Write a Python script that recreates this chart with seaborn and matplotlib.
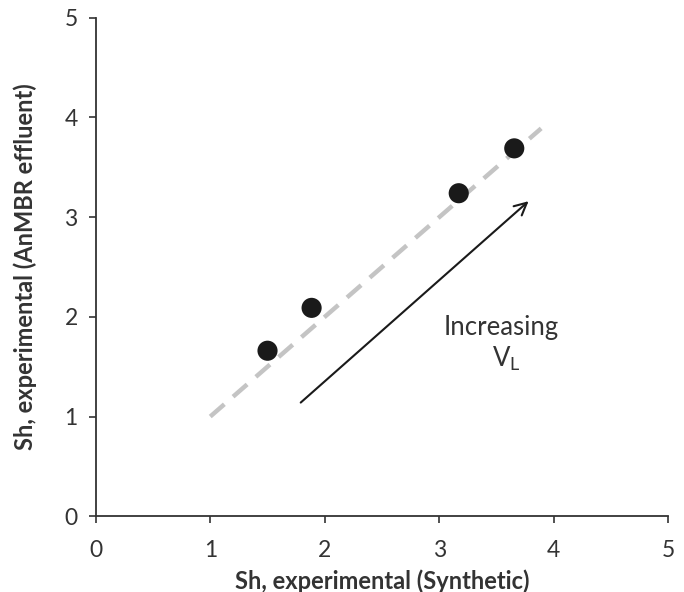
import matplotlib
matplotlib.use("Agg")
import matplotlib.pyplot as plt
import seaborn as sns
import pandas as pd

# Data
sh_synthetic = [1.50, 1.885, 3.17, 3.655]
sh_anmbr = [1.66, 2.09, 3.24, 3.69]
line_x = [1.0, 3.89]
line_y = [1.0, 3.89]
ticks = [0, 1, 2, 3, 4, 5]

sns.set_theme(style="ticks")
plt.rcParams['font.family'] = ['Lato', 'DejaVu Sans']

fig = plt.figure(figsize=(6.84, 5.92), dpi=100)
ax = fig.add_axes([0.140, 0.128, 0.837, 0.842])

df_line = pd.DataFrame({"x": line_x, "y": line_y})
sns.lineplot(data=df_line, x="x", y="y", ax=ax, color="#c4c4c4", linewidth=3.2,
             dashes=False)
ax.lines[-1].set_dashes([4.2, 2.6])
ax.lines[-1].set_dash_capstyle("butt")

df = pd.DataFrame({"x": sh_synthetic, "y": sh_anmbr})
sns.scatterplot(data=df, x="x", y="y", ax=ax, color="#1a1a1a", s=210,
                edgecolor="none", zorder=3)

ax.annotate("", xy=(3.78, 3.16), xytext=(1.79, 1.14),
            arrowprops=dict(arrowstyle="->", color="#1a1a1a", lw=1.5,
                            mutation_scale=22, shrinkA=0, shrinkB=0))
ax.text(3.54, 1.89, "Increasing", ha="center", va="center", fontsize=18.5,
        color="#333333")
ax.text(3.59, 1.58, r"V$_\mathregular{L}$", ha="center", va="center", fontsize=18.5,
        color="#333333")

ax.set_xlim(0, 5)
ax.set_ylim(0, 5)
ax.set_xticks(ticks)
ax.set_yticks(ticks)
ax.tick_params(axis="both", labelsize=16.5, colors="#333333", direction="out",
               length=5, width=1.2, pad=8)
ax.tick_params(axis="x", pad=12)
ax.set_xlabel("Sh, experimental (Synthetic)", fontsize=17, fontweight="bold",
              color="#333333", labelpad=6)
ax.set_ylabel("Sh, experimental (AnMBR effluent)", fontsize=17, fontweight="bold",
              color="#333333", labelpad=20)
for side in ["top", "right"]:
    ax.spines[side].set_visible(False)
for side in ["left", "bottom"]:
    ax.spines[side].set_color("#333333")
    ax.spines[side].set_linewidth(1.3)

fig.savefig("out.png", dpi=100)
